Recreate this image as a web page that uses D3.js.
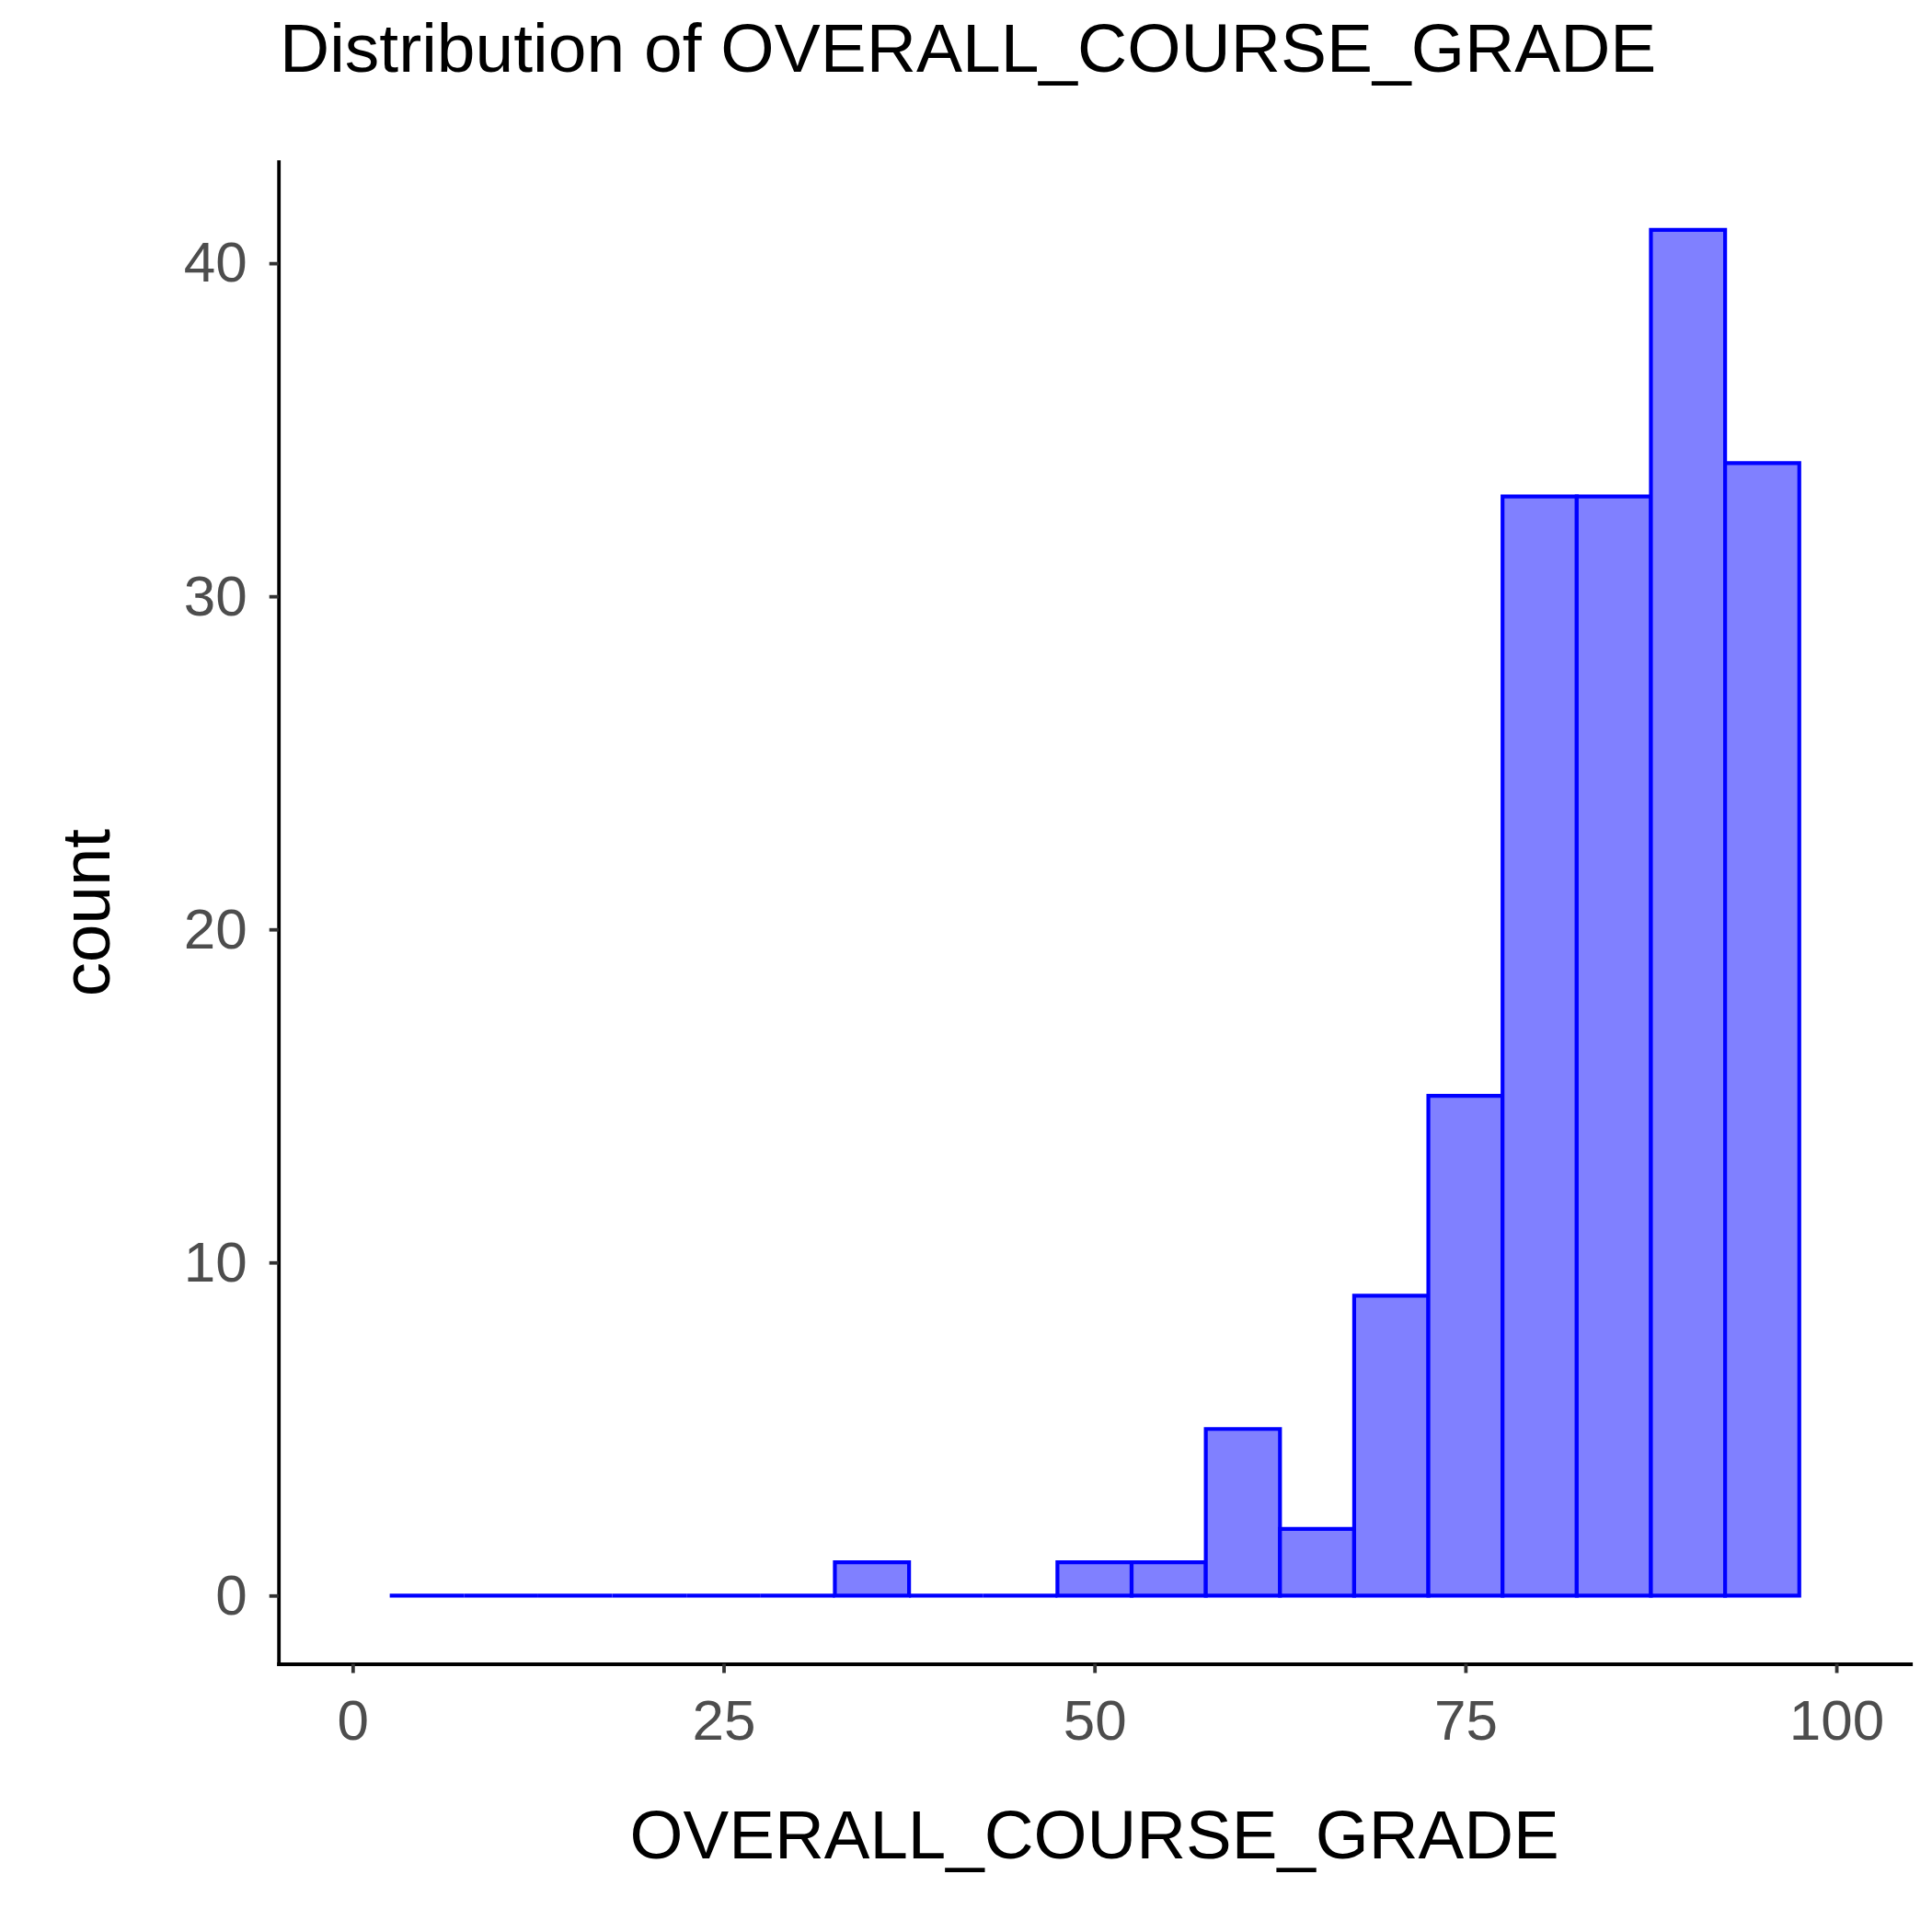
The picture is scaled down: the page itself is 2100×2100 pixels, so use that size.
<!DOCTYPE html>
<html>
<head>
<meta charset="utf-8">
<script src="https://cdn.jsdelivr.net/npm/d3@7"></script>
<style>
  body { margin: 0; background: #fff; }
  text { font-family: "Liberation Sans", Arial, sans-serif; }
</style>
</head>
<body>
<div class="chart"></div>
<script>
// histogram data, binwidth 5
var binCenters = [5, 10, 15, 20, 25, 30, 35, 40, 45, 50, 55, 60, 65, 70, 75, 80, 85, 90, 95];
var binCounts  = [0, 0, 0, 0, 0, 0, 1, 0, 0, 1, 1, 5, 2, 9, 15, 33, 33, 41, 34];
var xTicks = [0, 25, 50, 75, 100];
var yTicks = [0, 10, 20, 30, 40];
var titleText = "Distribution of OVERALL_COURSE_GRADE";
var xLabel = "OVERALL_COURSE_GRADE";
var yLabel = "count";

var svgWidth = 2100;
var svgHeight = 2100;
var binWidth = 5;

var panel = { left: 302.7, right: 2076.7, top: 175.7, bottom: 1808.5 };

var svg = d3.select(".chart")
  .append("svg")
  .attr("width", svgWidth)
  .attr("height", svgHeight);

svg.append("rect")
  .attr("width", svgWidth)
  .attr("height", svgHeight)
  .attr("fill", "#fff");

// scales (ggplot style expansion)
var xScale = d3.scaleLinear()
  .domain([-5, 105])
  .range([panel.left, panel.right]);

var yScale = d3.scaleLinear()
  .domain([-2.05, 43.05])
  .range([panel.bottom, panel.top]);

var bins = binCenters.map(function (c, i) {
  return { x0: c - binWidth / 2, x1: c + binWidth / 2, count: binCounts[i] };
});

// bars drawn as paths so empty bins still show as a line
svg.append("g")
  .selectAll("path")
  .data(bins)
  .enter()
  .append("path")
  .attr("d", function (d) {
    var p = d3.path();
    p.rect(xScale(d.x0), yScale(d.count), xScale(d.x1) - xScale(d.x0), yScale(0) - yScale(d.count));
    return p.toString();
  })
  .attr("fill", "#8080FF")
  .attr("stroke", "#0000FF")
  .attr("stroke-width", 4.2)
  .attr("stroke-linejoin", "miter");

// axes
var bottomAxis = d3.axisBottom(xScale)
  .tickValues(xTicks)
  .tickSizeInner(10)
  .tickSizeOuter(0)
  .tickPadding(28);

var leftAxis = d3.axisLeft(yScale)
  .tickValues(yTicks)
  .tickSizeInner(10)
  .tickSizeOuter(0)
  .tickPadding(24);

var xAxisG = svg.append("g")
  .attr("transform", `translate(0, ${panel.bottom})`)
  .call(bottomAxis);

var yAxisG = svg.append("g")
  .attr("transform", `translate(${panel.left}, 0)`)
  .call(leftAxis);

[xAxisG, yAxisG].forEach(function (g) {
  g.select(".domain")
    .attr("stroke", "#000")
    .attr("stroke-width", 3.8)
    .attr("stroke-linecap", "square");
  g.selectAll(".tick line")
    .attr("stroke", "#333333")
    .attr("stroke-width", 3.8);
  g.selectAll(".tick text")
    .attr("fill", "#4D4D4D")
    .attr("font-size", 62)
    .attr("font-family", "Liberation Sans, Arial, sans-serif");
});

// titles
svg.append("text")
  .attr("x", 304)
  .attr("y", 78)
  .attr("font-size", 75)
  .attr("fill", "#000")
  .text(titleText);

svg.append("text")
  .attr("x", (panel.left + panel.right) / 2)
  .attr("y", 2020)
  .attr("text-anchor", "middle")
  .attr("font-size", 74.5)
  .attr("fill", "#000")
  .text(xLabel);

svg.append("text")
  .attr("transform", `translate(119, ${(panel.top + panel.bottom) / 2}) rotate(-90)`)
  .attr("text-anchor", "middle")
  .attr("font-size", 74.5)
  .attr("fill", "#000")
  .text(yLabel);
</script>
</body>
</html>
